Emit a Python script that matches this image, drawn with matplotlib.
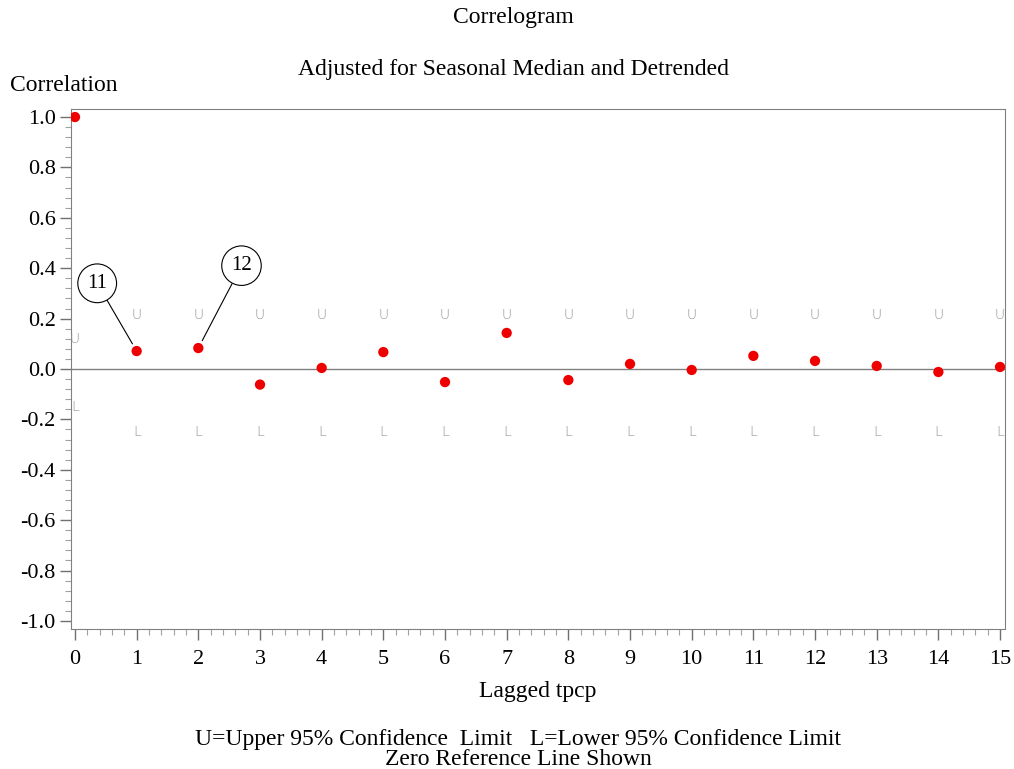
import numpy as np
import matplotlib
matplotlib.use("Agg")
import matplotlib.pyplot as plt
from matplotlib.ticker import MultipleLocator

plt.rcParams['font.family'] = ['Liberation Serif', 'DejaVu Serif']

# autocorrelations by lag
lags = np.arange(16)
acf = [1.0, 0.071, 0.083, -0.062, 0.004, 0.067, -0.052, 0.143,
       -0.044, 0.020, -0.004, 0.052, 0.032, 0.012, -0.012, 0.008]

# 95% confidence limits
upper = [0.12] + [0.215] * 15
lower = [-0.15] + [-0.25] * 15

fig = plt.figure(figsize=(10.14, 7.69), dpi=100)
ax = fig.add_axes([0.070, 0.1821, 0.9211, 0.6762])

ax.axhline(0, color='#808080', lw=1.0, zorder=1)
ax.scatter(lags, acf, s=55, color='#ee0000', zorder=3, edgecolors='none')

for x, u, l in zip(lags, upper, lower):
    ax.text(x, u, 'U', color='#909090', fontsize=10, ha='center', va='center',
            family='DejaVu Sans', fontweight='light')
    ax.text(x, l, 'L', color='#909090', fontsize=10, ha='center', va='center',
            family='DejaVu Sans', fontweight='light')

# circled labels pointing at lags 1 and 2
for xy, txt, xytext in [((1, acf[1]), '11', (0.36, 0.34)),
                        ((2, acf[2]), '12', (2.70, 0.41))]:
    ax.annotate(txt, xy=xy, xytext=xytext, fontsize=15, ha='center', va='center',
                bbox=dict(boxstyle='circle,pad=0.45', fc='white', ec='black', lw=0.8),
                arrowprops=dict(arrowstyle='-', color='black', lw=0.8,
                                shrinkA=0, shrinkB=6))

ax.set_xlim(-0.065, 15.08)
ax.set_ylim(-1.032, 1.032)
ax.xaxis.set_major_locator(MultipleLocator(1))
ax.xaxis.set_minor_locator(MultipleLocator(0.2))
ax.yaxis.set_minor_locator(MultipleLocator(0.04))
yt = np.round(np.arange(-1.0, 1.01, 0.2), 1)
ax.set_yticks(yt)
ax.set_yticklabels(['%.1f' % (v + 0.0) for v in yt])

for s in ax.spines.values():
    s.set_color('#808080')
ax.tick_params(which='major', length=8, width=1.0, color='#707070', labelsize=16, pad=3)
ax.tick_params(axis='x', which='major', pad=7)
ax.tick_params(which='minor', length=4, width=0.8, color='#a0a0a0')

ax.set_xlabel('Lagged tpcp', fontsize=17, labelpad=9)

fig.text(0.506, 0.977, 'Correlogram', ha='center', va='center', fontsize=17)
fig.text(0.506, 0.909, 'Adjusted for Seasonal Median and Detrended', ha='center', va='center', fontsize=17)
fig.text(0.010, 0.889, 'Correlation', ha='left', va='center', fontsize=17)
fig.text(0.511, 0.038, 'U=Upper 95% Confidence  Limit   L=Lower 95% Confidence Limit',
         ha='center', va='center', fontsize=17)
fig.text(0.511, 0.013, 'Zero Reference Line Shown', ha='center', va='center', fontsize=17)

fig.savefig('out.png', dpi=100)
